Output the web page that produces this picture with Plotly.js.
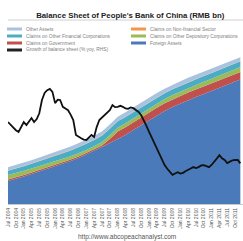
<!DOCTYPE html>
<html><head><meta charset="utf-8">
<script src="https://cdn.plot.ly/plotly-3.0.1.min.js"></script>
<style>html,body{margin:0;padding:0;background:#fff;overflow:hidden}#c{width:243px;height:241px}</style>
</head><body><div id="c"></div><script>
// ---- data ----
const startYear = 2004, startMonth = 7; // monthly observations Jul 2004 .. Dec 2011
const nMonths = 90;
const growthPct = [24.2,23.3,22.4,21.8,21.3,22.9,24.2,23.3,24.5,25.4,
  24.2,25.1,26.8,30.7,32.8,33.6,34.0,33.1,29.8,30.8,
  30.7,28.7,28.2,27.7,26.4,24.8,20.4,19.8,19.4,19.0,
  18.9,19.7,20.4,19.8,22.7,24.8,25.5,26.3,26.8,27.7,
  29.2,28.6,28.7,29.0,28.7,28.2,28.1,28.5,28.3,27.8,
  27.2,26.2,24.8,23.1,21.3,19.6,18.0,16.2,14.4,12.8,
  11.5,10.4,9.4,8.6,9.0,9.4,9.0,9.2,9.7,10.0,
  10.5,10.9,10.6,10.9,11.4,11.5,11.1,10.9,11.6,12.4,
  13.4,14.4,13.5,13.0,12.1,12.5,12.9,13.0,13.0,12.0];
// quarterly balance-sheet observations (RMB bn): Jul 2004, Oct 2004, ... Oct 2011, Dec 2011
const foreignAssets = [4630,5030,5540,6040,6540,7050,7650,8150,8660,9260,9960,10670,11470,12280,13080,13890,14890,15900,16910,17810,18720,19520,20230,20930,21540,22140,22750,23350,23950,24560,25060];
const claimsGovernment = [290,290,290,290,290,290,290,290,290,290,290,290,300,820,1500,1560,1560,1560,1560,1560,1560,1560,1540,1540,1540,1540,1530,1530,1530,1530,1530];
const claimsOtherDepository = [900,880,850,800,760,720,700,680,660,650,640,660,700,740,780,800,800,810,820,830,840,860,880,900,920,940,950,960,980,1000,1010];
const claimsOtherFinancial = [880,900,930,960,1000,1040,1080,1120,1160,1200,1230,1260,1290,1300,1300,1290,1270,1250,1220,1200,1180,1170,1160,1150,1150,1140,1140,1140,1130,1130,1130];
const claimsNonFinancial = [60,60,60,60,60,60,60,60,60,60,60,60,60,60,50,50,50,50,45,45,45,45,45,45,45,45,45,45,45,45,45];
const otherAssets = [650,660,670,680,690,700,710,720,730,740,760,780,800,820,850,880,900,900,900,890,880,870,860,850,840,830,820,810,800,790,780];
const seriesNames = ['Foreign Assets','Claims on Government','Claims on Other Depository Corporations','Claims on Other Financial Corporations','Claims on Non-financial Sector','Other Assets'];
const lineName = 'Growth of balance sheet (% yoy, RHS)';
const titleText = "Balance Sheet of People's Bank of China (RMB bn)";
const sourceText = 'http://www.abcopeachanalyst.com';

// ---- build ----
function ym(i){const t=startMonth-1+i;const y=startYear+Math.floor(t/12);const m=(t%12)+1;return y+'-'+String(m).padStart(2,'0')+'-01';}
const monthDates=[];for(let i=0;i<nMonths;i++)monthDates.push(ym(i));
const qDates=[];for(let i=0;i<=87;i+=3)qDates.push(ym(i));qDates.push(ym(89));

const colors=['#4A7AB9','#C0504D','#9BBB59','#4BACC6','#F79646','#A9C2E0'];
const vals=[foreignAssets,claimsGovernment,claimsOtherDepository,claimsOtherFinancial,claimsNonFinancial,otherAssets];
const traces=vals.map((v,i)=>({x:qDates,y:v,type:'scatter',mode:'lines',stackgroup:'s',
  line:{width:0,color:colors[i]},fillcolor:colors[i],name:seriesNames[i],showlegend:false}));
traces.push({x:monthDates,y:growthPct,type:'scatter',mode:'lines',yaxis:'y2',
  line:{color:'#111',width:1.8},name:lineName,showlegend:false});

// custom compact legend
const plotTop=55, plotH=149, plotL=8, plotW=235;
const py=p=>1+(plotTop-p)/plotH, px=p=>(p-plotL)/plotW;
const legendOrder=[5,4,3,2,1,0,-1];
const rowsY=[29,36,43,50];
const shapes=[{type:'line',xref:'paper',yref:'paper',x0:px(8),x1:px(243),y0:py(20),y1:py(20),line:{color:'#d0d0d0',width:1}}];
const annotations=[];
legendOrder.forEach((e,k)=>{
  const r=Math.floor(k/2), c=k%2;
  const sx=c===0?7:131;
  const col=e<0?'#222':colors[e];
  const nm=e<0?lineName:seriesNames[e];
  shapes.push({type:'line',xref:'paper',yref:'paper',x0:px(sx),x1:px(sx+15),y0:py(rowsY[r]),y1:py(rowsY[r]),line:{color:col,width:3}});
  annotations.push({xref:'paper',yref:'paper',x:px(sx+17),y:py(rowsY[r]),xanchor:'left',yanchor:'middle',showarrow:false,
    text:nm,font:{size:4.8,color:'#808080',family:'Liberation Sans, Arial'}});
});
annotations.push({xref:'paper',yref:'paper',x:px(127),y:py(237),xanchor:'center',yanchor:'middle',showarrow:false,
  text:sourceText,font:{size:6.5,color:'#555',family:'Liberation Sans, Arial'}});

const layout={width:243,height:241,margin:{l:8,r:0,t:55,b:37},paper_bgcolor:'#fff',plot_bgcolor:'#fff',
  title:{text:'<b>'+titleText+'</b>',x:0.52,xref:'paper',y:1-15/241,yanchor:'middle',font:{size:7.8,color:'#222',family:'Liberation Sans, Arial'}},
  xaxis:{type:'date',range:['2004-07-01','2012-01-01'],tick0:'2004-07-01',dtick:'M3',tickformat:'%b %Y',tickangle:-90,
    tickfont:{size:5,color:'#555',family:'Liberation Sans, Arial'},showgrid:false,zeroline:false,showline:true,linecolor:'#c8c8c8',linewidth:1,ticks:'',ticklabelstandoff:1},
  yaxis:{range:[0,30000],visible:false,fixedrange:true},
  yaxis2:{range:[0,44],overlaying:'y',side:'right',visible:false},
  showlegend:false,shapes:shapes,annotations:annotations};
Plotly.newPlot('c',traces,layout,{staticPlot:true,displayModeBar:false});
</script></body></html>
